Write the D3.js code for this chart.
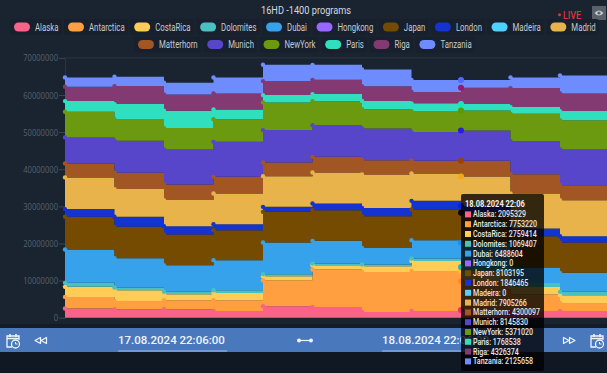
<!DOCTYPE html>
<html><head><meta charset="utf-8">
<script src="https://cdn.jsdelivr.net/npm/d3@7/dist/d3.min.js"></script>
<style>html,body{margin:0;padding:0;background:#1a2431;overflow:hidden}svg{display:block}text{font-family:Roboto,sans-serif}</style>
</head><body><svg id="c" width="607" height="373"></svg>
<script>
const titleText = "16HD -1400 programs";
const times = ["17.08.2024 22:06","18.08.2024 01:06","18.08.2024 04:06","18.08.2024 07:06","18.08.2024 10:06","18.08.2024 13:06","18.08.2024 16:06","18.08.2024 19:06","18.08.2024 22:06","19.08.2024 01:06","19.08.2024 04:06","19.08.2024 07:06"];
const names = ["Alaska","Antarctica","CostaRica","Dolomites","Dubai","Hongkong","Japan","London","Madeira","Madrid","Matterhorn","Munich","NewYork","Paris","Riga","Tanzania"];
const colors = ["#fb6287","#ff9f40","#ffcd56","#4bc0c0","#36a2eb","#9966ff","#744b00","#1433d1","#4dd2ff","#e8b34a","#a15623","#5746c9","#6b9a10","#2fdfbd","#833a73","#6f8cff"];
const hoverColors = ["#e0305f","#ff8a1a","#ffc020","#20b5b5","#1a90e8","#7a3cff","#0a0700","#0a20d8","#20c8ff","#f5a81c","#a33f00","#2b1fd6","#5c9a00","#14e8bd","#8f1d6f","#4f6bff"];
const Alaska =     [2480000,2290000,2290000,1830000,3100000,2910000,1560000,1830000,2095329,1830000,1830000,2000000];
const Antarctica = [3130000,2240000,2430000,2880000,7010000,10080000,10780000,10780000,7753220,4420000,2160000,4150000];
const CostaRica =  [2700000,2880000,1620000,1970000,1080000,1160000,1540000,2700000,2759414,2050000,2080000,2100000];
const Dolomites =  [1080000,730000,620000,730000,540000,460000,460000,650000,1069407,1080000,890000,900000];
const Dubai =      [9000000,7900000,7200000,8090000,8540000,6090000,4470000,4930000,6488604,4150000,5120000,8000000];
const Hongkong =   [0,0,0,0,0,0,0,0,0,0,0,0];
const Japan =      [8790000,8440000,8270000,8090000,8250000,8270000,8540000,8270000,8103195,8440000,8190000,8200000];
const London =     [2080000,2700000,2240000,1620000,1350000,1810000,2240000,2320000,1846465,2080000,1700000,1900000];
const Madeira =    [0,0,0,0,0,0,0,0,0,0,0,0];
const Madrid =     [8540000,7470000,7010000,8270000,8270000,8360000,9000000,7390000,7905266,9430000,9700000,9000000];
const Matterhorn = [3770000,4390000,4230000,4470000,3690000,4200000,3850000,3400000,4300097,5200000,4040000,4390000];
const Munich =     [7010000,8620000,9430000,9430000,8710000,8540000,8540000,7740000,8145830,8890000,9620000,8540000];
const NewYork =    [6900000,5850000,5740000,6120000,7470000,6470000,5200000,5660000,5371020,7360000,7900000,7630000];
const Paris =      [2880000,4040000,4660000,2610000,1970000,1890000,2240000,2080000,1768538,1810000,2430000,2260000];
const Riga =       [3850000,4850000,4420000,4310000,3770000,3850000,3960000,3050000,4326374,5120000,4770000,4040000];
const Tanzania =   [2530000,2510000,3130000,4310000,4390000,4040000,4500000,3230000,2125658,2880000,4850000,4930000];
const seriesValues = [Alaska,Antarctica,CostaRica,Dolomites,Dubai,Hongkong,Japan,London,Madeira,Madrid,Matterhorn,Munich,NewYork,Paris,Riga,Tanzania];
const yTicks = [0,10000000,20000000,30000000,40000000,50000000,60000000,70000000];
const hoverIndex = 8;
const dateLeft = "17.08.2024 22:06:00", dateRight = "18.08.2024 22:06:00";

const svg = d3.select("#c");
function squeeze(sel,k){sel.each(function(){const w=this.getComputedTextLength();d3.select(this).attr("textLength",w*k).attr("lengthAdjust","spacingAndGlyphs");});return sel;}

// chrome
svg.append("rect").attr("width",607).attr("height",373).attr("fill","#1a2431");
svg.append("rect").attr("y",324).attr("width",607).attr("height",5).attr("fill","#141c28");
svg.append("rect").attr("y",352).attr("width",607).attr("height",21).attr("fill","#101824");

// scales
const x = d3.scalePoint().domain(times).range([65,609.5]);
const y = d3.scaleLinear().domain([0,70000000]).range([317.7,57.9]);

// axis
const ax = svg.append("g").attr("transform","translate(65,0)").call(d3.axisLeft(y).tickValues(yTicks).tickFormat(d3.format("d")).tickSize(6).tickPadding(1));
ax.select(".domain").attr("stroke","#2a3542").attr("stroke-width",1);
ax.selectAll("line").attr("stroke","#3a4552");
const axT = ax.selectAll("text").attr("fill","#57616c").style("font-family","'Open Sans',sans-serif").attr("font-size",9.5);
squeeze(axT,0.8);
svg.append("line").attr("x1",65).attr("x2",607).attr("y1",y(70000000)).attr("y2",y(70000000)).attr("stroke","#2a3542");

// stack
const rows = times.map((t,i)=>{const r={t};names.forEach((n,j)=>r[n]=seriesValues[j][i]);return r;});
const stacked = d3.stack().keys(names)(rows);
const area = d3.area().x(d=>x(d.data.t)).y0(d=>y(d[0])).y1(d=>y(d[1])).curve(d3.curveStepAfter);
svg.append("g").selectAll("path").data(stacked).join("path").attr("d",area).attr("fill",(d,i)=>colors[i]);
const dots = svg.append("g");
stacked.forEach((s,i)=>{
  dots.selectAll(null).data(s.filter(d=>d[1]>d[0])).join("circle")
    .attr("cx",d=>x(d.data.t)).attr("cy",d=>y(d[1]))
    .attr("r",d=>d.data.t===times[hoverIndex]?3:2.2)
    .attr("fill",d=>d.data.t===times[hoverIndex]?hoverColors[i]:colors[i]);
});

// title and live
squeeze(svg.append("text").attr("x",261).attr("y",14).attr("font-size",11.5).attr("fill","#d5d9de").text(titleText),0.8);
svg.append("circle").attr("cx",559.5).attr("cy",14.7).attr("r",1.5).attr("fill","#e0343c");
squeeze(svg.append("text").attr("x",563).attr("y",19).attr("font-size",10.5).attr("font-weight",500).attr("fill","#d9363e").text("LIVE"),0.85);
svg.append("rect").attr("x",592).attr("y",6).attr("width",14).attr("height",14).attr("fill","#59616b");
svg.append("path").attr("d","M594.5 13Q599 8 603.5 13Q599 18 594.5 13Z").attr("fill","#c9cdd2");
svg.append("circle").attr("cx",599).attr("cy",13).attr("r",1.6).attr("fill","#59616b");

// legend
const lg = svg.append("g");
function legendRow(idx,y0,xStart,gap){
  let cx=xStart;
  idx.forEach(i=>{
    const chip=lg.append("rect").attr("x",cx-4).attr("y",y0-8).attr("height",16).attr("fill","#17202c").attr("rx",2);
    lg.append("rect").attr("x",cx).attr("y",y0-4.5).attr("width",16).attr("height",9).attr("rx",4.5).attr("fill",colors[i]);
    const t=lg.append("text").attr("x",cx+21).attr("y",y0+3.6).attr("font-size",10).attr("fill","#c6cbd1").text(names[i]);
    const w=t.node().getComputedTextLength()*0.78;
    t.attr("textLength",w).attr("lengthAdjust","spacingAndGlyphs");
    chip.attr("width",21+w+7);
    cx+=21+w+gap;
  });
}
legendRow(d3.range(0,10),27,14,9.55);
legendRow(d3.range(10,16),44.5,138,9.6);

// bottom bar
svg.append("rect").attr("y",328).attr("width",607).attr("height",24).attr("fill","#4a78bd");
function calendar(cx,cy){
  const g=svg.append("g").attr("transform",`translate(${cx},${cy})`).attr("fill","none").attr("stroke","#eef3fa").attr("stroke-width",1.3);
  g.append("path").attr("d","M-1 6H-6V-5H6V-1");
  g.append("path").attr("d","M-6 -2.5H6M-3 -7V-4M3 -7V-4").attr("stroke-width",1.6);
  g.append("circle").attr("cx",2.5).attr("cy",3).attr("r",4);
  g.append("path").attr("d","M2.5 1V3H4.5").attr("stroke-width",1);
}
calendar(13,341); calendar(597,341);
function chev(tip,dir){
  svg.append("path").attr("d",`M${tip} 340.5l${-dir*5.5} -3v6zM${tip-dir*6} 340.5l${-dir*5.5} -3v6z`)
    .attr("fill","none").attr("stroke","#eef3fa").attr("stroke-width",1.2).attr("stroke-linejoin","round");
}
chev(35,-1); chev(575,1);
svg.append("text").attr("x",118).attr("y",344).attr("font-size",11.5).attr("font-weight",500).attr("fill","#f0f4fa").text(dateLeft);
svg.append("text").attr("x",382).attr("y",344).attr("font-size",11.5).attr("font-weight",500).attr("fill","#f0f4fa").text(dateRight);
svg.append("line").attr("x1",118).attr("x2",227).attr("y1",351).attr("y2",351).attr("stroke","#9db9e0");
svg.append("line").attr("x1",382).attr("x2",491).attr("y1",351).attr("y2",351).attr("stroke","#9db9e0");
svg.append("line").attr("x1",299).attr("x2",311).attr("y1",340.5).attr("y2",340.5).attr("stroke","#eef3fa").attr("stroke-width",1.2);
svg.append("circle").attr("cx",299).attr("cy",340.5).attr("r",2).attr("fill","#eef3fa");
svg.append("circle").attr("cx",311).attr("cy",340.5).attr("r",2).attr("fill","#eef3fa");

// tooltip
const tipG=svg.append("g");
tipG.append("rect").attr("x",461).attr("y",194).attr("width",83).attr("height",177).attr("rx",2).attr("fill","#000").attr("fill-opacity",0.78);
squeeze(tipG.append("text").attr("x",465).attr("y",207).attr("font-size",8.5).attr("font-weight",700).attr("fill","#f2f2f2").text(times[hoverIndex]),0.88);
names.forEach((n,j)=>{
  const yy=214.4+j*9.8;
  tipG.append("rect").attr("x",465).attr("y",yy-3).attr("width",6).attr("height",6).attr("fill",colors[j]);
  squeeze(tipG.append("text").attr("x",473).attr("y",yy+3).attr("font-size",8.3).attr("font-weight",500).attr("fill","#e8e8e8").text(`${n}: ${seriesValues[j][hoverIndex]}`),0.85);
});
</script></body></html>
